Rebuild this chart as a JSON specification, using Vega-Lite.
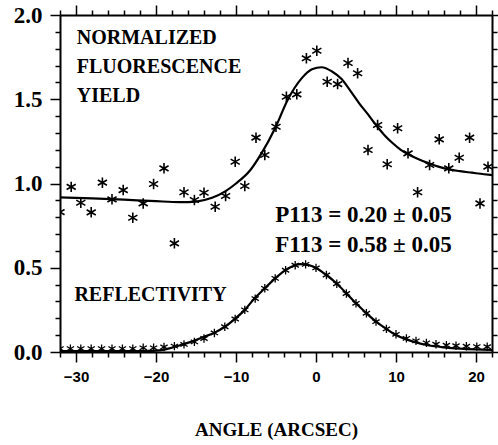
{
  "$schema": "https://vega.github.io/schema/vega-lite/v6.json",
  "autosize": {"type": "none"},
  "padding": {"left": 60, "top": 15, "right": 6, "bottom": 93},
  "width": 432,
  "height": 337,
  "background": "white",
  "config": {
    "view": {"stroke": null},
    "axis": {"domainColor": "black", "tickColor": "black", "domainWidth": 2, "tickWidth": 1.5, "grid": false}
  },
  "resolve": {"axis": {"x": "independent", "y": "independent"}},
  "datasets": {
    "fluor": [
      {"angle": -32.0, "value": 0.83}, {"angle": -30.6, "value": 0.98}, {"angle": -29.4, "value": 0.886},
      {"angle": -28.1, "value": 0.829}, {"angle": -26.7, "value": 1.005}, {"angle": -25.5, "value": 0.906},
      {"angle": -24.1, "value": 0.961}, {"angle": -22.9, "value": 0.797}, {"angle": -21.6, "value": 0.882},
      {"angle": -20.3, "value": 0.997}, {"angle": -19.0, "value": 1.09}, {"angle": -17.7, "value": 0.645},
      {"angle": -16.5, "value": 0.948}, {"angle": -15.2, "value": 0.902}, {"angle": -14.0, "value": 0.945},
      {"angle": -12.6, "value": 0.862}, {"angle": -11.3, "value": 0.926}, {"angle": -10.1, "value": 1.129},
      {"angle": -8.9, "value": 0.985}, {"angle": -7.5, "value": 1.272}, {"angle": -6.4, "value": 1.169},
      {"angle": -5.0, "value": 1.337}, {"angle": -3.7, "value": 1.515}, {"angle": -2.4, "value": 1.529},
      {"angle": -1.2, "value": 1.743}, {"angle": 0.1, "value": 1.788}, {"angle": 1.4, "value": 1.604},
      {"angle": 2.7, "value": 1.59}, {"angle": 4.0, "value": 1.715}, {"angle": 5.2, "value": 1.654},
      {"angle": 6.5, "value": 1.199}, {"angle": 7.7, "value": 1.347}, {"angle": 8.9, "value": 1.114},
      {"angle": 10.2, "value": 1.328}, {"angle": 11.5, "value": 1.179}, {"angle": 12.7, "value": 0.948},
      {"angle": 14.2, "value": 1.11}, {"angle": 15.4, "value": 1.262}, {"angle": 16.6, "value": 1.09},
      {"angle": 17.9, "value": 1.153}, {"angle": 19.2, "value": 1.272}, {"angle": 20.5, "value": 0.882},
      {"angle": 21.5, "value": 1.10}
    ],
    "refl": [
      {"angle": -32.0, "value": 0.02}, {"angle": -30.7, "value": 0.02}, {"angle": -29.4, "value": 0.02},
      {"angle": -28.1, "value": 0.02}, {"angle": -26.8, "value": 0.02}, {"angle": -25.5, "value": 0.02},
      {"angle": -24.2, "value": 0.02}, {"angle": -22.9, "value": 0.02}, {"angle": -21.6, "value": 0.025},
      {"angle": -20.3, "value": 0.025}, {"angle": -19.0, "value": 0.03}, {"angle": -17.7, "value": 0.035},
      {"angle": -16.5, "value": 0.045}, {"angle": -15.2, "value": 0.06}, {"angle": -14.0, "value": 0.08},
      {"angle": -12.7, "value": 0.113}, {"angle": -11.4, "value": 0.15}, {"angle": -10.1, "value": 0.196},
      {"angle": -8.9, "value": 0.25}, {"angle": -7.6, "value": 0.317}, {"angle": -6.4, "value": 0.378},
      {"angle": -5.1, "value": 0.437}, {"angle": -3.8, "value": 0.485}, {"angle": -2.6, "value": 0.515},
      {"angle": -1.3, "value": 0.52}, {"angle": 0.0, "value": 0.499}, {"angle": 1.3, "value": 0.457},
      {"angle": 2.6, "value": 0.405}, {"angle": 3.8, "value": 0.347}, {"angle": 5.0, "value": 0.289},
      {"angle": 6.3, "value": 0.23}, {"angle": 7.5, "value": 0.18}, {"angle": 8.8, "value": 0.137},
      {"angle": 10.0, "value": 0.105}, {"angle": 11.3, "value": 0.081}, {"angle": 12.5, "value": 0.066},
      {"angle": 13.8, "value": 0.054}, {"angle": 15.0, "value": 0.046}, {"angle": 16.3, "value": 0.04},
      {"angle": 17.5, "value": 0.037}, {"angle": 18.8, "value": 0.034}, {"angle": 20.1, "value": 0.032},
      {"angle": 21.4, "value": 0.031}
    ],
    "fluorFit": [
      {"angle": -32, "value": 0.918}, {"angle": -28, "value": 0.912}, {"angle": -24, "value": 0.904},
      {"angle": -20, "value": 0.895}, {"angle": -17, "value": 0.89}, {"angle": -15, "value": 0.893},
      {"angle": -13, "value": 0.915}, {"angle": -11.3, "value": 0.955}, {"angle": -10, "value": 1.0},
      {"angle": -8.2, "value": 1.08}, {"angle": -6.8, "value": 1.18}, {"angle": -5.1, "value": 1.33},
      {"angle": -3.5, "value": 1.5}, {"angle": -1.8, "value": 1.624}, {"angle": -0.5, "value": 1.678},
      {"angle": 0.7, "value": 1.69}, {"angle": 2.0, "value": 1.665}, {"angle": 3.2, "value": 1.62},
      {"angle": 4.3, "value": 1.55}, {"angle": 5.4, "value": 1.476}, {"angle": 6.5, "value": 1.41},
      {"angle": 7.5, "value": 1.347}, {"angle": 8.5, "value": 1.29}, {"angle": 9.6, "value": 1.239},
      {"angle": 10.6, "value": 1.2}, {"angle": 11.7, "value": 1.169}, {"angle": 12.9, "value": 1.142},
      {"angle": 14.1, "value": 1.12}, {"angle": 15.3, "value": 1.1}, {"angle": 16.6, "value": 1.084},
      {"angle": 18.0, "value": 1.073}, {"angle": 19.5, "value": 1.064}, {"angle": 21.0, "value": 1.055},
      {"angle": 22.0, "value": 1.05}
    ],
    "reflFit": [
      {"angle": -32, "value": 0.005}, {"angle": -24, "value": 0.005}, {"angle": -20, "value": 0.008},
      {"angle": -19, "value": 0.014}, {"angle": -17, "value": 0.04}, {"angle": -15.3, "value": 0.066},
      {"angle": -14, "value": 0.09}, {"angle": -12.8, "value": 0.112}, {"angle": -11.4, "value": 0.15},
      {"angle": -10.2, "value": 0.194}, {"angle": -8.9, "value": 0.25}, {"angle": -7.7, "value": 0.317},
      {"angle": -6.4, "value": 0.378}, {"angle": -5.1, "value": 0.437}, {"angle": -3.9, "value": 0.483},
      {"angle": -3.0, "value": 0.507}, {"angle": -2.0, "value": 0.521}, {"angle": -1.0, "value": 0.517},
      {"angle": 0.06, "value": 0.497}, {"angle": 1.3, "value": 0.457}, {"angle": 2.55, "value": 0.408},
      {"angle": 3.8, "value": 0.348}, {"angle": 5.0, "value": 0.289}, {"angle": 6.3, "value": 0.23},
      {"angle": 7.5, "value": 0.18}, {"angle": 8.8, "value": 0.137}, {"angle": 10.0, "value": 0.1},
      {"angle": 11.3, "value": 0.075}, {"angle": 12.5, "value": 0.056}, {"angle": 14.0, "value": 0.04},
      {"angle": 16.0, "value": 0.028}, {"angle": 18.0, "value": 0.02}, {"angle": 20.0, "value": 0.015},
      {"angle": 22.0, "value": 0.012}
    ]
  },
  "layer": [
    {
      "data": {"name": "fluorFit"},
      "mark": {"type": "line", "color": "black", "strokeWidth": 2.2, "interpolate": "monotone", "clip": true},
      "encoding": {
        "x": {
          "field": "angle", "type": "quantitative",
          "scale": {"domain": [-32, 22], "nice": false, "zero": false},
          "axis": {
            "orient": "bottom", "title": "ANGLE (ARCSEC)",
            "values": [-32, -30, -28, -26, -24, -22, -20, -18, -16, -14, -12, -10, -8, -6, -4, -2, 0, 2, 4, 6, 8, 10, 12, 14, 16, 18, 20, 22],
            "labelExpr": "datum.value % 10 === 0 ? format(datum.value, 'd') : ''",
            "tickSize": {"condition": {"test": "datum.value % 10 === 0", "value": 10}, "value": 5},
            "labelFont": "Liberation Sans", "labelFontWeight": "bold", "labelFontSize": 15, "labelColor": "black",
            "labelPadding": 7, "labelFlush": false, "labelOverlap": false,
            "titleFont": "Liberation Serif", "titleFontWeight": "bold", "titleFontSize": 19, "titleColor": "black",
            "titlePadding": 36
          }
        },
        "y": {
          "field": "value", "type": "quantitative",
          "scale": {"domain": [0, 2], "nice": false},
          "axis": {
            "orient": "left", "title": null,
            "values": [0, 0.1, 0.2, 0.3, 0.4, 0.5, 0.6, 0.7, 0.8, 0.9, 1.0, 1.1, 1.2, 1.3, 1.4, 1.5, 1.6, 1.7, 1.8, 1.9, 2.0],
            "labelExpr": "abs(datum.value * 2 - round(datum.value * 2)) < 0.001 ? format(datum.value, '.1f') : ''",
            "tickSize": {"condition": {"test": "abs(datum.value * 2 - round(datum.value * 2)) < 0.001", "value": 10}, "value": 5},
            "labelFont": "Liberation Serif", "labelFontWeight": "bold", "labelFontSize": 23, "labelColor": "black",
            "labelPadding": 8, "labelFlush": false, "labelOverlap": false
          }
        }
      }
    },
    {
      "data": {"name": "reflFit"},
      "mark": {"type": "line", "color": "black", "strokeWidth": 2.2, "interpolate": "monotone", "clip": true},
      "encoding": {
        "x": {"field": "angle", "type": "quantitative",
          "axis": {
            "orient": "top", "title": null, "labels": false,
            "values": [-32, -30, -28, -26, -24, -22, -20, -18, -16, -14, -12, -10, -8, -6, -4, -2, 0, 2, 4, 6, 8, 10, 12, 14, 16, 18, 20, 22],
            "tickSize": {"condition": {"test": "datum.value % 10 === 0", "value": 10}, "value": 5}
          }
        },
        "y": {"field": "value", "type": "quantitative",
          "axis": {
            "orient": "right", "title": null, "labels": false,
            "values": [0, 0.1, 0.2, 0.3, 0.4, 0.5, 0.6, 0.7, 0.8, 0.9, 1.0, 1.1, 1.2, 1.3, 1.4, 1.5, 1.6, 1.7, 1.8, 1.9, 2.0],
            "tickSize": {"condition": {"test": "abs(datum.value * 2 - round(datum.value * 2)) < 0.001", "value": 10}, "value": 5}
          }
        }
      }
    },
    {
      "data": {"name": "fluor"},
      "mark": {"type": "point", "shape": "M0,-1L0,1M-0.87,-0.5L0.87,0.5M-0.87,0.5L0.87,-0.5", "filled": false, "stroke": "black", "strokeWidth": 1.6, "size": 110, "opacity": 1, "clip": true},
      "encoding": {
        "x": {"field": "angle", "type": "quantitative", "axis": null},
        "y": {"field": "value", "type": "quantitative", "axis": null}
      }
    },
    {
      "data": {"name": "refl"},
      "mark": {"type": "point", "shape": "M0,-1L0,1M-0.87,-0.5L0.87,0.5M-0.87,0.5L0.87,-0.5", "filled": false, "stroke": "black", "strokeWidth": 1.3, "size": 70, "opacity": 1, "clip": true},
      "encoding": {
        "x": {"field": "angle", "type": "quantitative", "axis": null},
        "y": {"field": "value", "type": "quantitative", "axis": null}
      }
    },
    {
      "data": {"values": [{"label": "NORMALIZED"}]},
      "mark": {"type": "text", "align": "left", "baseline": "alphabetic", "font": "Liberation Serif", "fontWeight": "bold", "fontSize": 20, "color": "black", "lineHeight": 29},
      "encoding": {
        "x": {"datum": -29.9, "type": "quantitative", "axis": null},
        "y": {"datum": 1.828, "type": "quantitative", "axis": null},
        "text": {"value": ["NORMALIZED", "FLUORESCENCE", "YIELD"]}
      }
    },
    {
      "data": {"values": [{"label": "REFLECTIVITY"}]},
      "mark": {"type": "text", "align": "left", "baseline": "alphabetic", "font": "Liberation Serif", "fontWeight": "bold", "fontSize": 20, "color": "black"},
      "encoding": {
        "x": {"datum": -30.2, "type": "quantitative", "axis": null},
        "y": {"datum": 0.303, "type": "quantitative", "axis": null},
        "text": {"field": "label"}
      }
    },
    {
      "data": {"values": [{"label": "P113 =  0.20 ± 0.05"}]},
      "mark": {"type": "text", "align": "left", "baseline": "alphabetic", "font": "Liberation Serif", "fontWeight": "bold", "fontSize": 23, "color": "black"},
      "encoding": {
        "x": {"datum": -5.1, "type": "quantitative", "axis": null},
        "y": {"datum": 0.773, "type": "quantitative", "axis": null},
        "text": {"field": "label"}
      }
    },
    {
      "data": {"values": [{"label": "F113 =  0.58 ± 0.05"}]},
      "mark": {"type": "text", "align": "left", "baseline": "alphabetic", "font": "Liberation Serif", "fontWeight": "bold", "fontSize": 23, "color": "black"},
      "encoding": {
        "x": {"datum": -5.1, "type": "quantitative", "axis": null},
        "y": {"datum": 0.593, "type": "quantitative", "axis": null},
        "text": {"field": "label"}
      }
    }
  ]
}
